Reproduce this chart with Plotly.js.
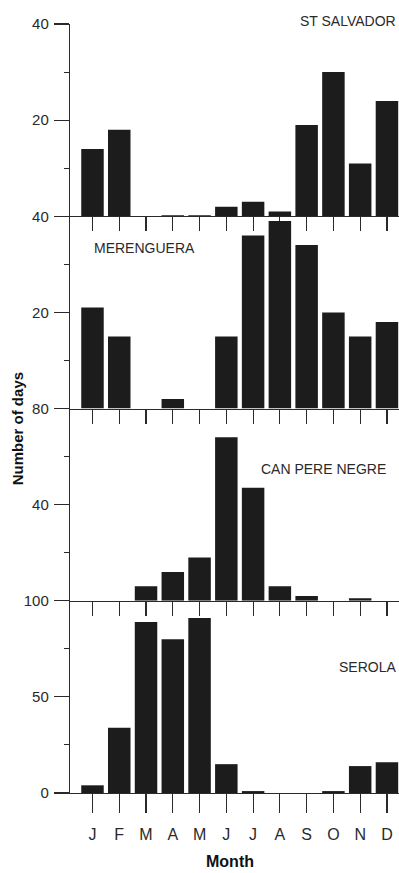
<!DOCTYPE html>
<html>
<head>
<meta charset="utf-8">
<script src="https://cdn.plot.ly/plotly-3.0.1.min.js"></script>
<style>html,body{margin:0;padding:0;background:#fff;}#chart{width:399px;height:873px;}</style>
</head>
<body>
<div id="chart"></div>
<script>
const months = ['J','F','M','A','M','J','J','A','S','O','N','D'];
const monthIndex = [0,1,2,3,4,5,6,7,8,9,10,11];
const stSalvador = [14,18,0,0.2,0.2,2,3,1,19,30,11,24];
const merenguera = [21,15,0,2,0,15,36,39,34,20,15,18];
const canPereNegre = [0,0,6,12,18,68,47,6,2,0,1,0];
const serola = [4,34,89,80,91,15,1,0,0,1,14,16];
const stations = ['ST SALVADOR','MERENGUERA','CAN PERE NEGRE','SEROLA'];

const series = [stSalvador, merenguera, canPereNegre, serola];
const ranges = [[0,40],[0,40],[0,80],[0,100]];
const majorTicks = [[20,40],[20,40],[40,80],[0,50,100]];
const minorTicks = [[10,30],[10,30],[20,60],[25,75]];
const domains = [[0.75,1],[0.5,0.75],[0.25,0.5],[0,0.25]];

const font = 'Liberation Sans, Arial, Helvetica, sans-serif';
const ink = '#1c1c1c';
const axisInk = '#2a2a2a';

const traces = series.map((vals, i) => ({
  type: 'bar',
  x: monthIndex,
  y: vals,
  xaxis: 'x' + (i + 1),
  yaxis: 'y' + (i + 1),
  width: 0.84,
  marker: {color: ink, line: {width: 0}},
  hoverinfo: 'skip'
}));

const layout = {
  width: 399,
  height: 873,
  margin: {l: 70, r: 0, t: 24, b: 80},
  paper_bgcolor: '#fff',
  plot_bgcolor: '#fff',
  showlegend: false,
  font: {family: font, color: axisInk},
  annotations: []
};

for (let i = 0; i < 4; i++) {
  const xa = 'xaxis' + (i + 1);
  const ya = 'yaxis' + (i + 1);
  const last = i === 3;
  layout[xa] = {
    domain: [0, 1],
    anchor: 'y' + (i + 1),
    range: [-0.84, 11.45],
    tickmode: 'array',
    tickvals: monthIndex,
    ticktext: months,
    showticklabels: last,
    ticks: 'outside',
    ticklen: last ? 19 : 14,
    tickwidth: 1.2,
    tickcolor: axisInk,
    showline: true,
    linecolor: axisInk,
    linewidth: 1.2,
    showgrid: false,
    zeroline: false,
    fixedrange: true,
    ticklabelstandoff: last ? 8 : 0,
    tickfont: {family: font, size: 16, color: axisInk}
  };
  layout[ya] = {
    domain: domains[i],
    anchor: 'x' + (i + 1),
    range: ranges[i],
    tickmode: 'array',
    tickvals: majorTicks[i],
    ticks: 'outside',
    ticklen: 15,
    tickwidth: 1.2,
    tickcolor: axisInk,
    minor: {tickvals: minorTicks[i], ticks: 'outside', ticklen: 5, tickwidth: 1, tickcolor: axisInk},
    showline: true,
    linecolor: axisInk,
    linewidth: 1.2,
    showgrid: false,
    zeroline: false,
    fixedrange: true,
    ticklabelstandoff: 2,
    tickfont: {family: font, size: 15, color: axisInk}
  };
}

const labelPos = [
  {x: 0.996, y: 1.004, xanchor: 'right'},
  {x: 0.068, y: 0.709, xanchor: 'left'},
  {x: 0.966, y: 0.4213, xanchor: 'right'},
  {x: 0.996, y: 0.1638, xanchor: 'right'}
];
stations.forEach((name, i) => {
  layout.annotations.push({
    text: name, xref: 'paper', yref: 'paper',
    x: labelPos[i].x, y: labelPos[i].y, xanchor: labelPos[i].xanchor, yanchor: 'middle',
    showarrow: false, font: {family: font, size: 14, color: axisInk}
  });
});
layout.annotations.push({
  text: '<b>Number of days</b>', xref: 'paper', yref: 'paper',
  x: -0.161, y: 0.473, xanchor: 'center', yanchor: 'middle', textangle: -90,
  showarrow: false, font: {family: font, size: 15, color: '#111'}
});
layout.annotations.push({
  text: '<b>Month</b>', xref: 'paper', yref: 'paper',
  x: 0.486, y: -0.1033, xanchor: 'center', yanchor: 'bottom',
  showarrow: false, font: {family: font, size: 16, color: '#111'}
});

Plotly.newPlot('chart', traces, layout, {displayModeBar: false, staticPlot: true});
</script>
</body>
</html>
